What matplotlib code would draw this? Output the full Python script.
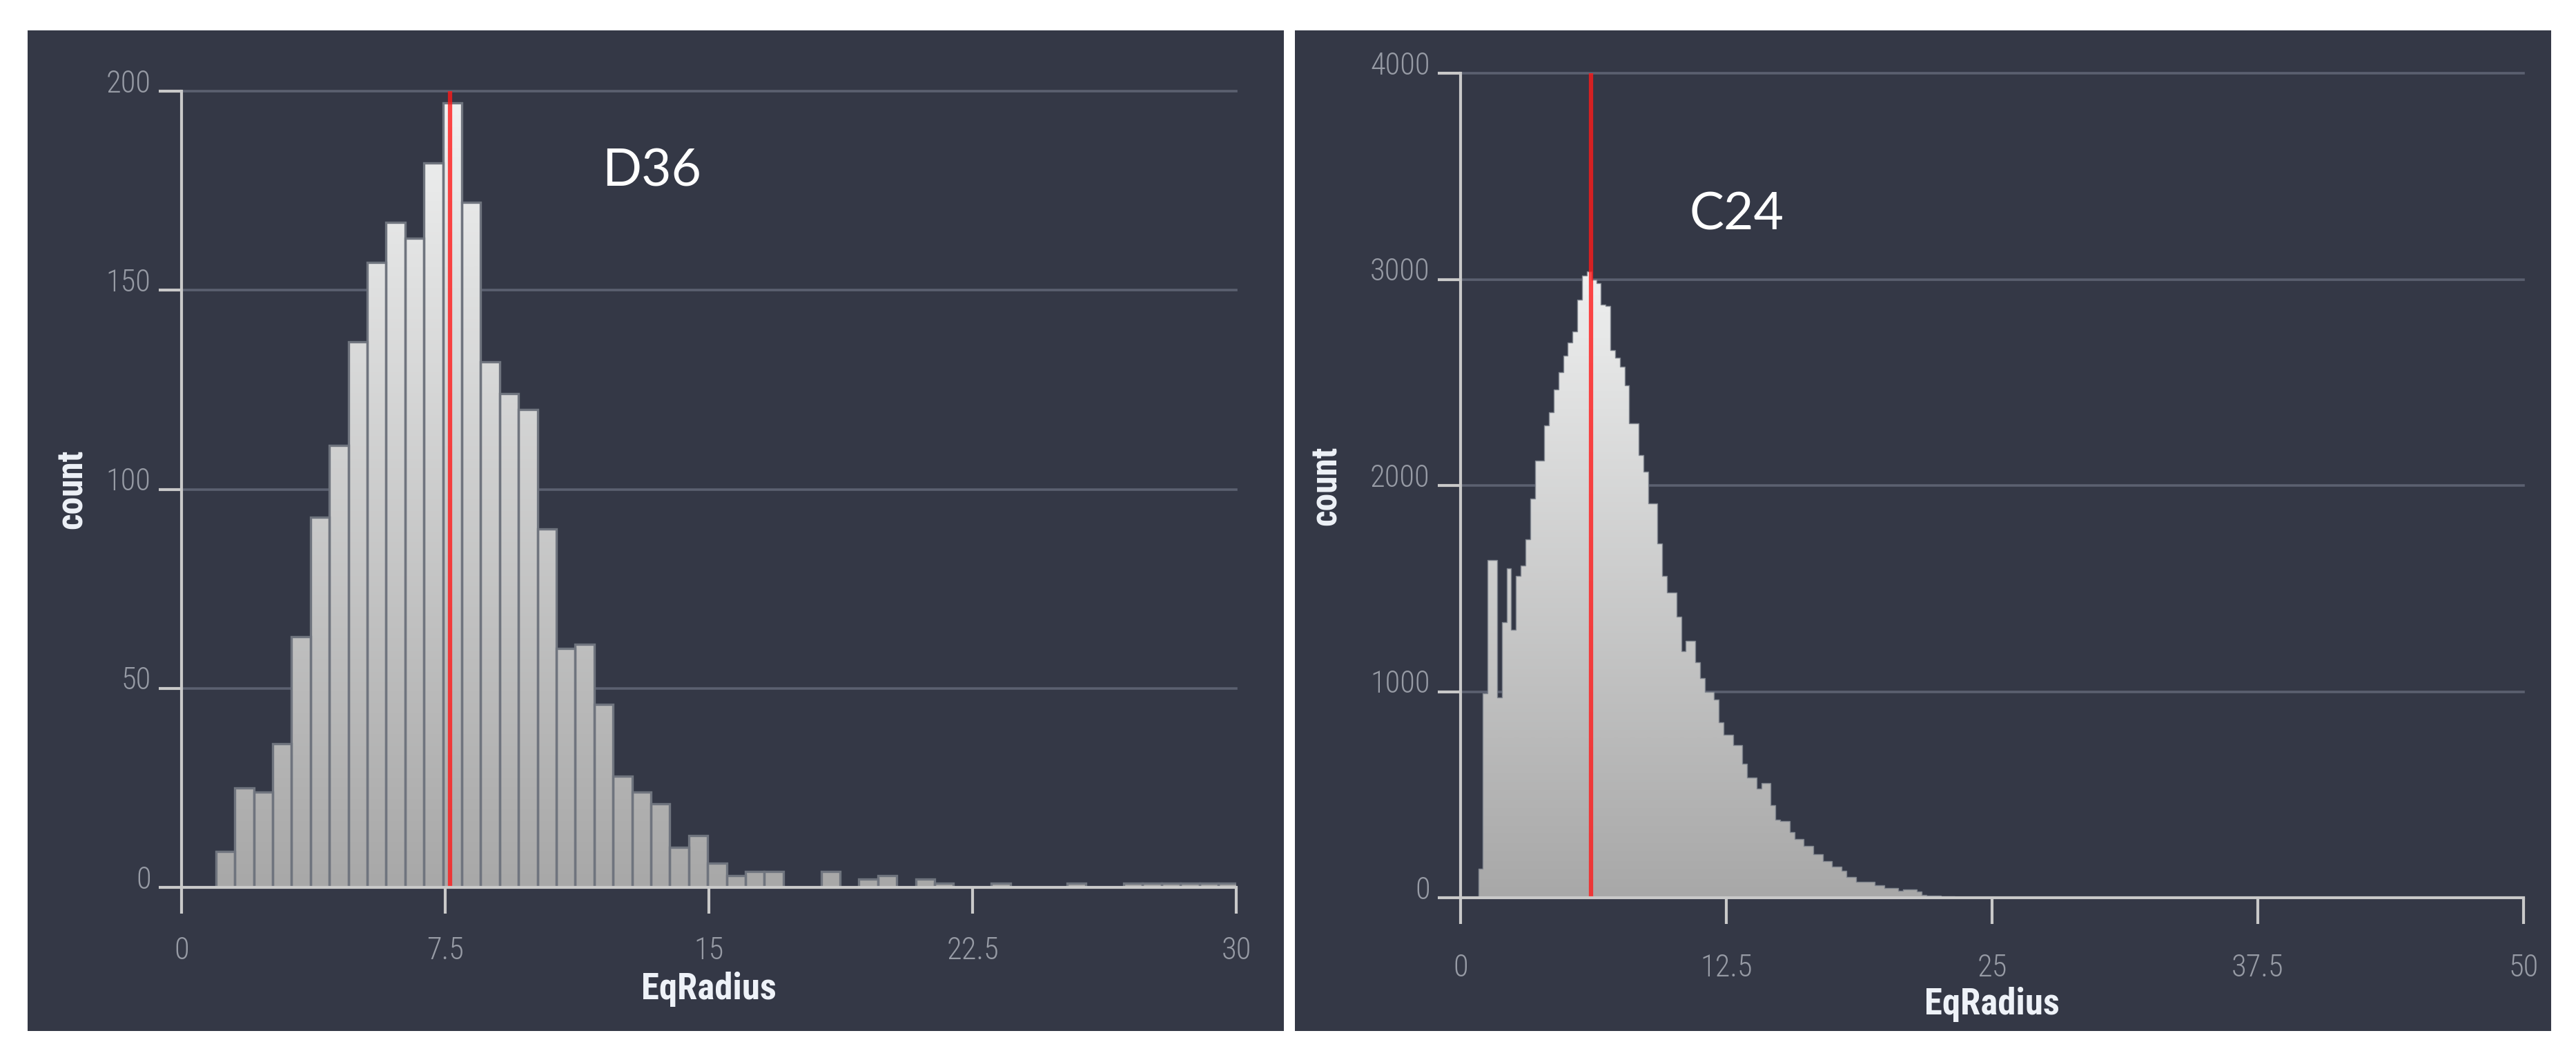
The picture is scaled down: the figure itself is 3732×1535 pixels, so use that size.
import numpy as np
import matplotlib
matplotlib.use("Agg")
import matplotlib.pyplot as plt
from matplotlib.patches import Rectangle, PathPatch
from matplotlib.path import Path
from matplotlib.transforms import Affine2D, ScaledTranslation
from matplotlib.colors import LinearSegmentedColormap

# ---- D36 histogram (left) ----
d36_first_edge = 0.976
d36_bin_width = 0.538
d36_counts = [9, 25, 24, 36, 63, 93, 111, 137, 157, 167,
              163, 182, 197, 172, 132, 124, 120, 90, 60, 61,
              46, 28, 24, 21, 10, 13, 6, 3, 4, 4,
              0, 0, 4, 0, 2, 3, 0, 2, 1, 0,
              0, 1, 0, 0, 0, 1, 0, 0, 1, 1,
              1, 1, 1, 1]
d36_marker = 7.64
d36_xticks = [0, 7.5, 15, 22.5, 30]
d36_xticklabels = ["0", "7.5", "15", "22.5", "30"]
d36_yticks = [0, 50, 100, 150, 200]

# ---- C24 histogram (right) ----
c24_first_edge = 0.83
c24_bin_width = 0.222
c24_counts = [140, 993, 1638, 1638, 970, 1338, 1599, 1300, 1561, 1611,
              1740, 1938, 2121, 2121, 2290, 2355, 2466, 2550, 2630, 2694,
              2747, 2902, 3020, 3039, 3000, 2981, 2878, 2870, 2655, 2620,
              2576, 2486, 2303, 2303, 2147, 2068, 1913, 1913, 1717, 1561,
              1482, 1482, 1365, 1196, 1247, 1247, 1142, 1065, 999, 999,
              961, 850, 790, 790, 739, 739, 650, 583, 583, 529,
              556, 556, 450, 378, 372, 372, 318, 285, 285, 251,
              251, 211, 211, 179, 179, 152, 152, 132, 100, 100,
              77, 77, 77, 77, 60, 60, 47, 47, 47, 34,
              40, 40, 40, 30, 12, 10, 10, 9, 8, 7,
              6, 5, 5, 4, 3, 3]
c24_marker = 6.14
c24_xticks = [0, 12.5, 25, 37.5, 50]
c24_xticklabels = ["0", "12.5", "25", "37.5", "50"]
c24_yticks = [0, 1000, 2000, 3000, 4000]

BG = "#343846"
GRID = "#5b6070"
AXIS = "#c9c9c9"
TICKTXT = "#979ba5"
LABEL = "#eef2f8"
NARROW = ["Roboto Condensed", "Liberation Sans Narrow", "Roboto", "DejaVu Sans"]

bar_cmap = LinearSegmentedColormap.from_list("bars", ["#a8a8a8", "#f1f2f2"])

W, H = 3732, 1535
fig = plt.figure(figsize=(W / 100, H / 100), dpi=100, facecolor="white")

# dark panel backgrounds
for x0, x1 in [(40, 1860), (1876, 3696)]:
    fig.patches.append(Rectangle((x0 / W, 1 - 1493 / H), (x1 - x0) / W, 1449 / H,
                                 transform=fig.transFigure, facecolor=BG,
                                 edgecolor="none", zorder=-5))


def style_axes(ax, xticks, xlabels, yticks, xmax, ymax, xpad):
    ax.set_facecolor("none")
    ax.set_zorder(2)
    for side in ["top", "right"]:
        ax.spines[side].set_visible(False)
    for side in ["left", "bottom"]:
        ax.spines[side].set_color(AXIS)
        ax.spines[side].set_linewidth(3)
        ax.spines[side].set_zorder(6)
    for v in yticks[1:]:
        ax.axhline(v, color=GRID, lw=2.6, zorder=0.5, clip_on=False)
    ax.set_xlim(0, xmax)
    ax.set_ylim(0, ymax)
    ax.set_xticks(xticks)
    ax.set_xticklabels(xlabels)
    ax.set_yticks(yticks)
    ax.tick_params(axis="both", direction="out", color=AXIS, width=3,
                   labelcolor=TICKTXT, labelsize=32)
    ax.tick_params(axis="x", length=27, pad=xpad)
    ax.tick_params(axis="y", length=24, pad=8)
    for lab in ax.get_xticklabels() + ax.get_yticklabels():
        lab.set_family(NARROW)
        lab.set_fontweight("light")
    shift = ScaledTranslation(0, 0.15, fig.dpi_scale_trans)
    for lab in ax.get_yticklabels():
        lab.set_transform(lab.get_transform() + shift)
    ax.set_xlabel("EqRadius", fontsize=38, fontweight="bold", color=LABEL, family=NARROW)
    ax.set_ylabel("count", fontsize=37, fontweight="bold", color=LABEL, family=NARROW)


def gradient_fill(ax, clip, xmax, top):
    grad = np.linspace(0, 1, 256).reshape(-1, 1)
    im = ax.imshow(grad, extent=(0, xmax, 0, top), origin="lower", aspect="auto",
                   cmap=bar_cmap, zorder=2, interpolation="bilinear")
    im.set_clip_path(clip)


# ---------------- left panel ----------------
axL = fig.add_axes([263 / W, 1 - 1285 / H, 1528 / W, 1153 / H])
d36_edges = d36_first_edge + d36_bin_width * np.arange(len(d36_counts) + 1)
rects = [Path.unit_rectangle().transformed(Affine2D().scale(d36_bin_width, c).translate(x, 0))
         for x, c in zip(d36_edges[:-1], d36_counts)]
clipL = PathPatch(Path.make_compound_path(*rects), transform=axL.transData,
                  facecolor="none", edgecolor="none")
axL.add_patch(clipL)
gradient_fill(axL, clipL, 30, 200)
axL.bar(d36_edges[:-1], d36_counts, width=d36_bin_width, align="edge",
        facecolor="none", edgecolor="#6f747e", linewidth=2.4, zorder=3)
axL.axvline(d36_marker, color="#ff1a1a", alpha=0.8, lw=4.5, zorder=4)
style_axes(axL, d36_xticks, d36_xticklabels, d36_yticks, 30, 200, xpad=24)
axL.yaxis.set_label_coords(-0.087, 0.5)
axL.xaxis.set_label_coords(0.5, -0.106)
axL.text(11.95, 176.2, "D36", fontsize=54, color="white", family="Lato",
         ha="left", va="baseline", zorder=5)

# ---------------- right panel ----------------
axR = fig.add_axes([2116 / W, 1 - 1300 / H, 1540 / W, 1194 / H])
c24_edges = c24_first_edge + c24_bin_width * np.arange(len(c24_counts) + 1)
clipR = axR.stairs(c24_counts, c24_edges, fill=True, facecolor="none",
                   edgecolor="none", zorder=1)
gradient_fill(axR, clipR, 50, 3150)
axR.stairs(c24_counts, c24_edges, color="#80858e", lw=1.0, zorder=3)
axR.axvline(c24_marker, color="#ff1a1a", alpha=0.8, lw=4.5, zorder=4)
style_axes(axR, c24_xticks, c24_xticklabels, c24_yticks, 50, 4000, xpad=31)
axR.yaxis.set_label_coords(-0.110, 0.5)
axR.xaxis.set_label_coords(0.5, -0.108)
axR.text(10.75, 3240, "C24", fontsize=54, color="white", family="Lato",
         ha="left", va="baseline", zorder=5)

fig.savefig("out.png", dpi=100, facecolor="white")
